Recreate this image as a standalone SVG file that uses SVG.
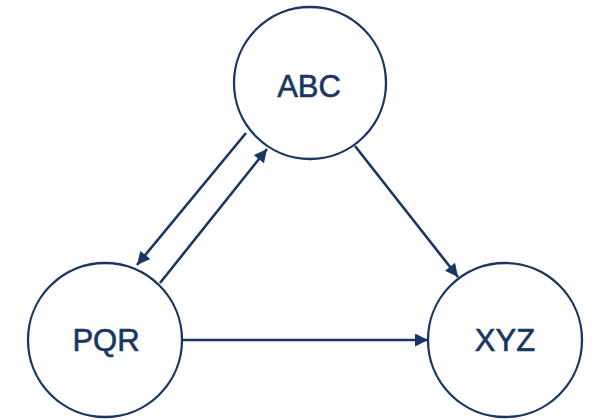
<svg xmlns="http://www.w3.org/2000/svg" width="607" height="420" viewBox="0 0 607 420">
<style>
.node{fill:#fff;stroke:#193763;stroke-width:2.3}
.lbl{font-family:"Liberation Sans",Arial,sans-serif;font-size:31px;fill:#193763;stroke:#193763;stroke-width:0.6;text-anchor:middle}
.edge{stroke:#193763;stroke-width:2.6;fill:none;marker-end:url(#ah)}
</style>
<defs>
<marker id="ah" viewBox="0 0 10 10" refX="10" refY="5" markerWidth="5.5" markerHeight="5" markerUnits="strokeWidth" orient="auto">
<path d="M0,0 L10,5 L0,10 z" fill="#193763"/>
</marker>
</defs>
<rect width="607" height="420" fill="#fff"/>
<g id="connectors">
<line class="edge" x1="246" y1="133" x2="137" y2="265"/>
<line class="edge" x1="160" y1="283" x2="267" y2="149"/>
<line class="edge" x1="355" y1="146" x2="458" y2="277"/>
<line class="edge" x1="182" y1="340" x2="428" y2="340"/>
</g>
<g id="ABC"><circle class="node" cx="310" cy="83" r="76"/><text class="lbl" x="309" y="97">ABC</text></g>
<g id="PQR"><circle class="node" cx="105" cy="340" r="77"/><text class="lbl" x="106" y="351">PQR</text></g>
<g id="XYZ"><circle class="node" cx="505" cy="340" r="77"/><text class="lbl" x="505" y="351">XYZ</text></g>
</svg>
